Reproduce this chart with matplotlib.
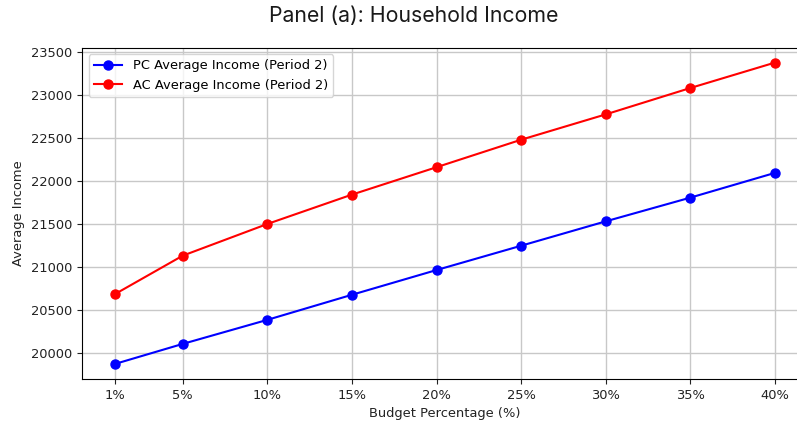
import matplotlib.pyplot as plt

# budget shares (percent) and average income in period 2
budget_pct = [1, 5, 10, 15, 20, 25, 30, 35, 40]
tick_labels = ["1%", "5%", "10%", "15%", "20%", "25%", "30%", "35%", "40%"]
pc_income = [19872, 20105, 20385, 20677, 20965, 21248, 21532, 21808, 22096]
ac_income = [20685, 21132, 21501, 21843, 22162, 22482, 22777, 23084, 23380]

fig = plt.figure(figsize=(7.97, 4.21), dpi=100)
ax = fig.add_axes([82 / 797, 42 / 421, 726 / 797, 331.5 / 421])

ax.plot(budget_pct, pc_income, color="blue", marker="o", markersize=6.5,
        linewidth=1.5, label="PC Average Income (Period 2)")
ax.plot(budget_pct, ac_income, color="red", marker="o", markersize=6.5,
        linewidth=1.5, label="AC Average Income (Period 2)")

ax.set_xticks(budget_pct)
ax.set_xticklabels(tick_labels)
ax.tick_params(labelsize=9.4, colors="#222222")
ax.set_xlabel("Budget Percentage (%)", fontsize=9.4, color="#222222")
ax.set_ylabel("Average Income", fontsize=9.4, color="#222222")
ax.grid(True, color="#c8c8c8", linewidth=1)
ax.legend(loc="upper left", fontsize=9.4, handlelength=2.2)

fig.text(414 / 797, 1 - 16 / 421, "Panel (a): Household Income",
         ha="center", va="center", fontsize=15.3, family="Inter",
         color="#1a1a1a")

fig.savefig("out.png", dpi=100)
